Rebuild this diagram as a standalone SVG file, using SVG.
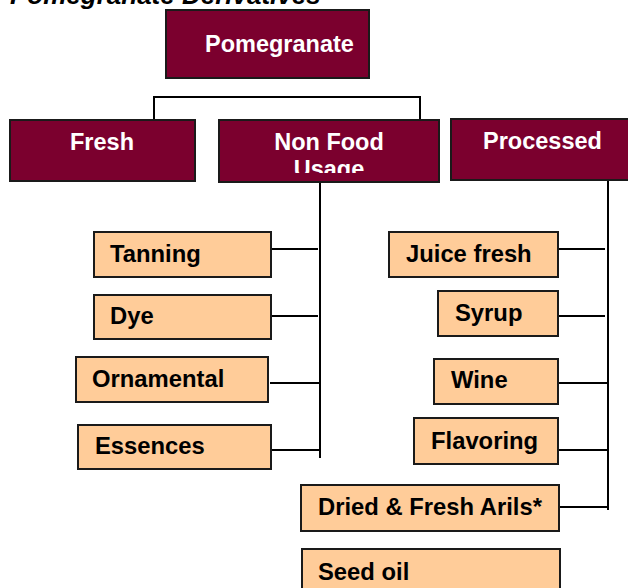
<svg xmlns="http://www.w3.org/2000/svg" width="628" height="588" viewBox="0 0 628 588">
<style>
.maroon{fill:#7b002e;stroke:#1a1a1a;stroke-width:2}
.light{fill:#ffcc99;stroke:#1a1a1a;stroke-width:2}
.wt{font-family:"Liberation Sans",Arial,sans-serif;font-weight:bold;font-size:23.5px;fill:#ffffff}
.bt{font-family:"Liberation Sans",Arial,sans-serif;font-weight:bold;font-size:23.8px;fill:#000000}
.title{font-family:"Liberation Sans",Arial,sans-serif;font-weight:bold;font-style:italic;font-size:26px;fill:#000000}
.conn{fill:none;stroke:#000000;stroke-width:2}
</style>
<defs>
<clipPath id="nfclip"><rect x="219" y="120" width="221" height="53"/></clipPath>
</defs>
<text class="title" x="10" y="4">Pomegranate Derivatives</text>
<g id="connectors">
<polyline class="conn" points="154,120 154,97 420,97 420,121"/>
<line class="conn" x1="320" y1="182" x2="320" y2="458"/>
<line class="conn" x1="270" y1="249" x2="318" y2="249"/>
<line class="conn" x1="270" y1="316" x2="318" y2="316"/>
<line class="conn" x1="270" y1="383" x2="320" y2="383"/>
<line class="conn" x1="270" y1="450" x2="320" y2="450"/>
<line class="conn" x1="608" y1="180" x2="608" y2="510"/>
<line class="conn" x1="557" y1="249" x2="605" y2="249"/>
<line class="conn" x1="557" y1="316" x2="605" y2="316"/>
<line class="conn" x1="558" y1="383" x2="608" y2="383"/>
<line class="conn" x1="558" y1="450" x2="608" y2="450"/>
<line class="conn" x1="559" y1="507" x2="608" y2="507"/>
</g>
<g id="pomegranate">
<rect class="maroon" x="166" y="10" width="203" height="68"/>
<text class="wt" x="205" y="52">Pomegranate</text>
</g>
<g id="fresh">
<rect class="maroon" x="10" y="120" width="185" height="61"/>
<text class="wt" x="70" y="150">Fresh</text>
</g>
<g id="nonfood">
<rect class="maroon" x="219" y="120" width="220" height="62"/>
<text class="wt" x="329" y="150" text-anchor="middle" clip-path="url(#nfclip)">Non Food<tspan x="329" dy="27">Usage</tspan></text>
</g>
<g id="processed">
<rect class="maroon" x="451" y="119" width="190" height="61"/>
<text class="wt" x="483" y="149">Processed</text>
</g>
<g id="tanning">
<rect class="light" x="94" y="232" width="177" height="45"/>
<text class="bt" x="110" y="262">Tanning</text>
</g>
<g id="dye">
<rect class="light" x="94" y="295" width="177" height="44"/>
<text class="bt" x="110" y="324">Dye</text>
</g>
<g id="ornamental">
<rect class="light" x="76" y="357" width="192" height="45"/>
<text class="bt" x="92" y="387">Ornamental</text>
</g>
<g id="essences">
<rect class="light" x="78" y="425" width="193" height="44"/>
<text class="bt" x="95" y="454">Essences</text>
</g>
<g id="juice">
<rect class="light" x="389" y="232" width="169" height="45"/>
<text class="bt" x="406" y="262">Juice fresh</text>
</g>
<g id="syrup">
<rect class="light" x="438" y="291" width="120" height="45"/>
<text class="bt" x="455" y="321">Syrup</text>
</g>
<g id="wine">
<rect class="light" x="434" y="359" width="124" height="45"/>
<text class="bt" x="451" y="388">Wine</text>
</g>
<g id="flavoring">
<rect class="light" x="414" y="418" width="144" height="46"/>
<text class="bt" x="431" y="449">Flavoring</text>
</g>
<g id="dried">
<rect class="light" x="301" y="485" width="258" height="46"/>
<text class="bt" x="318" y="515">Dried &amp; Fresh Arils*</text>
</g>
<g id="seedoil">
<rect class="light" x="302" y="549" width="258" height="50"/>
<text class="bt" x="318" y="580">Seed oil</text>
</g>
</svg>
